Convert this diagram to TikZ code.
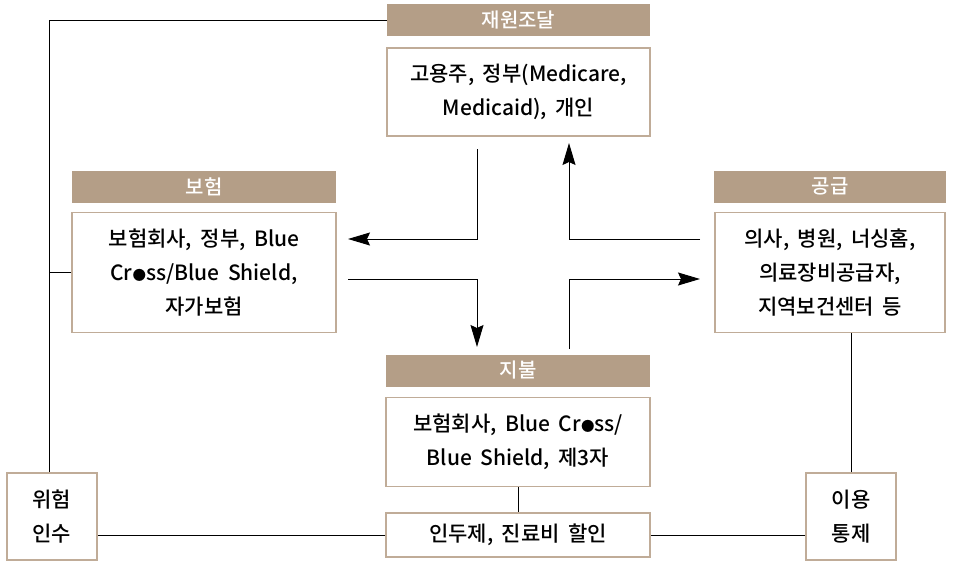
\documentclass[tikz,border=0pt]{standalone}
\usepackage{fontspec}
\setmainfont{Noto Sans CJK KR}[UprightFont=* Medium, WordSpace=1.8]
\usepackage{tikz}
\usetikzlibrary{arrows.meta, positioning}
\definecolor{headBrown}{RGB}{180,158,135}
\definecolor{edgeBrown}{RGB}{192,172,152}
\newcommand{\dotO}{{\fontsize{13.5}{13.5}\selectfont ●}}

\begin{document}
\begin{tikzpicture}[x=1pt, y=-1pt,
  head/.style={rectangle, fill=headBrown, text=white, minimum width=263pt,
               minimum height=32pt, inner sep=0pt, font=\fontsize{20}{20}\selectfont},
  box/.style={rectangle, draw=edgeBrown, line width=1.6pt, fill=white,
              minimum width=263pt, inner sep=0pt, align=center,
              font=\fontsize{21}{34}\selectfont},
  arr/.style={-{Stealth[length=22pt, width=13pt, inset=3pt]}, line width=1pt},
  lnk/.style={line width=1pt}
]
\useasboundingbox (0,0) rectangle (972,562);

% four sectors
\node[head] (fundH) at (518.5,20) {재원조달};
\node[box, minimum height=88pt, below=11pt of fundH] (fund)
  {고용주, 정부(Medicare,\\Medicaid), 개인};
\node[head, minimum width=264pt] (insH) at (204,186.5) {보험};
\node[box, minimum width=264pt, minimum height=120pt, below=9pt of insH] (ins)
  {보험회사, 정부, Blue\\Cr\dotO ss/Blue Shield,\\자가보험};
\node[head, minimum width=232pt] (supH) at (830,186.5) {공급};
\node[box, minimum width=230pt, minimum height=120pt, below=9pt of supH] (sup)
  {의사, 병원, 너싱홈,\\의료장비공급자,\\지역보건센터 등};
\node[head, minimum width=264pt] (payH) at (518,370.5) {지불};
\node[box, minimum width=264pt, minimum height=89pt, below=10pt of payH] (pay)
  {보험회사, Blue Cr\dotO ss/\\Blue Shield, 제3자};

% control boxes
\node[box, minimum width=264pt, minimum height=44pt] (cap) at (518,535)
  {인두제, 진료비 할인};
\node[box, minimum width=90pt, minimum height=87pt] (risk) at (52,516.5)
  {위험\\인수};
\node[box, minimum width=90pt, minimum height=87pt] (util) at (851,516.5)
  {이용\\통제};

% flow arrows
\coordinate (a1) at (477,149);
\coordinate (a2) at (348,239);
\coordinate (b1) at (348,279);
\coordinate (b2) at (477,347);
\coordinate (c1) at (569,349);
\coordinate (c2) at (700,279);
\coordinate (d1) at (700,239);
\coordinate (d2) at (569,143);
\draw[arr] (a1) |- (a2);
\draw[arr] (b1) -| (b2);
\draw[arr] (c1) |- (c2);
\draw[arr] (d1) -| (d2);

% links
\coordinate (corner) at (49,20);
\draw[lnk] (fundH.west) -- (corner) -- (corner |- risk.north);
\draw[lnk] (ins.west) -- (ins.west -| corner);
\draw[lnk] (pay.south) -- (cap.north);
\draw[lnk] (cap.west) -- (cap.west -| risk.east);
\draw[lnk] (cap.east) -- (cap.east -| util.west);
\draw[lnk] (util.north) -- (util.north |- sup.south);
\end{tikzpicture}
\end{document}
